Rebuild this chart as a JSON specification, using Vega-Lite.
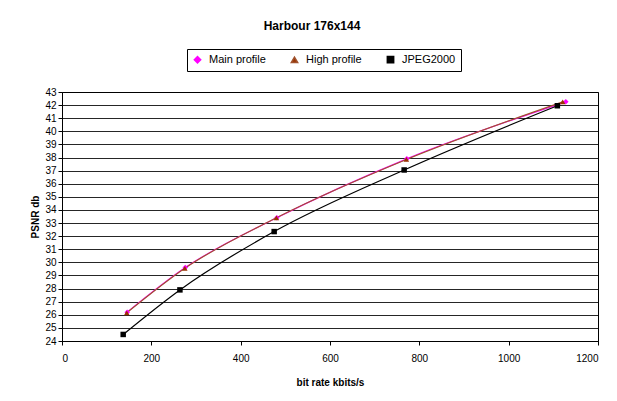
{
  "$schema": "https://vega.github.io/schema/vega-lite/v6.json",
  "autosize": "none",
  "width": 536,
  "height": 249,
  "padding": {"left": 62, "top": 92, "right": 19, "bottom": 60},
  "background": "white",
  "title": {"text": "Harbour 176x144", "font": "Liberation Sans", "fontSize": 12, "fontWeight": "bold", "color": "black", "anchor": "middle", "dx": -18, "offset": 16},
  "config": {
    "font": "Liberation Sans",
    "view": {"stroke": "black", "strokeWidth": 1},
    "axis": {"labelFont": "Liberation Sans", "labelFontSize": 10, "labelColor": "black", "titleFont": "Liberation Sans", "titleFontSize": 10, "titleFontWeight": "bold", "titleColor": "black", "domainColor": "black", "tickColor": "black", "tickSize": 4, "gridColor": "black", "gridOpacity": 0.85},
    "legend": {"orient": "none", "legendX": 125, "legendY": -43, "direction": "horizontal",
      "strokeColor": "black", "padding": 5, "labelFont": "Liberation Sans", "labelFontSize": 11, "labelColor": "black",
      "symbolSize": 40, "columnPadding": 22, "labelOffset": 6}
  },
  "data": {"values": [
    {"series": "Main profile", "rate": 146, "psnr": 26.2},
    {"series": "Main profile", "rate": 276, "psnr": 29.6},
    {"series": "Main profile", "rate": 481, "psnr": 33.4},
    {"series": "Main profile", "rate": 772, "psnr": 37.9},
    {"series": "Main profile", "rate": 1128, "psnr": 42.25},
    {"series": "High profile", "rate": 145, "psnr": 26.15},
    {"series": "High profile", "rate": 275, "psnr": 29.55},
    {"series": "High profile", "rate": 480, "psnr": 33.4},
    {"series": "High profile", "rate": 771, "psnr": 37.85},
    {"series": "High profile", "rate": 1121, "psnr": 42.25},
    {"series": "JPEG2000", "rate": 137, "psnr": 24.5},
    {"series": "JPEG2000", "rate": 264, "psnr": 27.9},
    {"series": "JPEG2000", "rate": 475, "psnr": 32.35},
    {"series": "JPEG2000", "rate": 766, "psnr": 37.05},
    {"series": "JPEG2000", "rate": 1109, "psnr": 41.95}
  ]},
  "encoding": {
    "x": {"field": "rate", "type": "quantitative", "title": "bit rate kbits/s",
      "scale": {"domain": [0, 1200], "nice": false},
      "axis": {"values": [0, 200, 400, 600, 800, 1000, 1200], "format": "d", "grid": false, "labelPadding": 8, "titlePadding": 14}},
    "y": {"field": "psnr", "type": "quantitative", "title": "PSNR db",
      "scale": {"domain": [24, 43], "nice": false, "zero": false},
      "axis": {"values": [24,25,26,27,28,29,30,31,32,33,34,35,36,37,38,39,40,41,42,43], "grid": true, "labelPadding": 2, "titlePadding": 4}},
    "color": {"field": "series", "type": "nominal",
      "scale": {"domain": ["Main profile", "High profile", "JPEG2000"], "range": ["#FF00FF", "#A0522D", "black"]},
      "legend": {"title": null}}
  },
  "layer": [
    {"mark": {"type": "line", "interpolate": "monotone", "strokeWidth": 1.2},
      "encoding": {"order": {"field": "rate", "type": "quantitative"}}},
    {"mark": {"type": "point", "filled": true, "size": 30, "opacity": 1},
      "encoding": {
        "shape": {"field": "series", "type": "nominal",
          "scale": {"domain": ["Main profile", "High profile", "JPEG2000"], "range": ["diamond", "triangle-up", "square"]},
          "legend": {"title": null}},
        "fill": {"field": "series", "type": "nominal",
          "scale": {"domain": ["Main profile", "High profile", "JPEG2000"], "range": ["#FF00FF", "#993300", "black"]},
          "legend": {"title": null}}
      }}
  ]
}
